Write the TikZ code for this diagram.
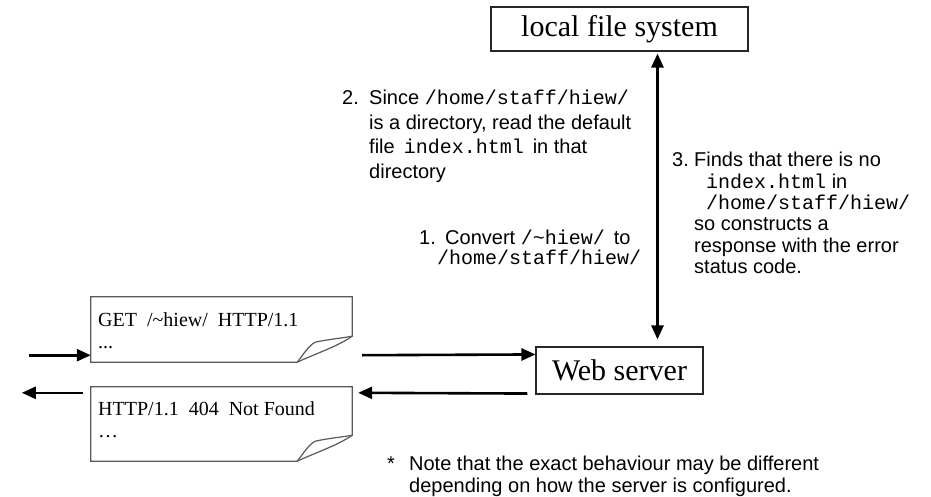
\documentclass[tikz,border=0pt]{standalone}
\usepackage{fontspec}
\setmainfont{Liberation Serif}
\newfontfamily\sansf{Liberation Sans}
\newfontfamily\monof{Liberation Mono}
\usetikzlibrary{arrows.meta,calc}

% lines stacked at a fixed baseline distance
\newcommand\stackedlines[1]{\vtop{\lineskiplimit=-100pt\lineskip=0pt #1}}

% outline of a sheet with a turned-up lower right corner
\newcommand\foldedpage[1]{%
  \draw[docline] (#1.north west) -- (#1.north east)
    -- ($(#1.south east)+(0,-26)$)
    .. controls ($(#1.south east)+(-14,-16)$) and ($(#1.south east)+(-38,-8)$) .. ($(#1.south east)+(-55,0)$)
    -- (#1.south west) -- cycle;
  \draw[docline, fill=none] ($(#1.south east)+(-55,0)$)
    .. controls ($(#1.south east)+(-48,-9)$) and ($(#1.south east)+(-43,-17)$) .. ($(#1.south east)+(-37,-20)$)
    .. controls ($(#1.south east)+(-24,-23)$) and ($(#1.south east)+(-10,-24)$) .. ($(#1.south east)+(0,-26)$);
}

\tikzset{
  titlebox/.style={draw=black!85, line width=1.1pt, inner sep=0, font=\fontsize{30}{36}\selectfont},
  docframe/.style={inner sep=0, minimum width=261pt},
  docline/.style={draw=black!65, line width=1.2pt, fill=white},
  doctext/.style={inner sep=0, anchor=base west, font=\fontsize{20}{22}\selectfont},
  flow/.style={line width=2.6pt, -{Triangle[length=14pt,width=12pt]}},
  bothways/.style={line width=2.6pt, {Triangle[length=14pt,width=12pt]}-{Triangle[length=14pt,width=12pt]}},
  note/.style={inner sep=0, anchor=base west},
}

\begin{document}
\begin{tikzpicture}[x=1pt,y=-1pt]
\useasboundingbox (0,0) rectangle (931,497);

% boxes
\node[titlebox, minimum width=257pt, minimum height=44pt] (lfs) at (619.5,29) {local file system};
\node[titlebox, minimum width=167pt, minimum height=47pt] (ws) at (619.5,370.5) {Web server};

\node[docframe, minimum height=65pt] (req) at (221.5,329.5) {};
\node[docframe, minimum height=74pt] (resp) at (221.5,424) {};
\foldedpage{req}
\foldedpage{resp}

\node[doctext] (reqtext) at (98,326) {\stackedlines{\hbox{GET\ \ /\textasciitilde hiew/\ \ HTTP/1.1}\hbox{...}}};
\node[doctext] (resptext) at (98,415) {\stackedlines{\hbox{HTTP/1.1\ \ 404\ \ Not Found}\hbox{\textellipsis}}};

% connectors
\coordinate (inA) at ($(req.south west)+(-62,-7)$);
\coordinate (outB) at ($(resp.north west)+(-69,6)$);
\draw[flow] (inA) -- ($(req.south west)+(0,-7)$);
\draw[flow] ($(req.south east)+(10,-7)$) -- ($(ws.north west)+(0,8)$);
\draw[flow] ($(ws.south west)+(-8,-1)$) -- ($(resp.north east)+(6,6)$);
\draw[flow] ($(resp.north west)+(-8,6)$) -- (outB);
\draw[bothways] ($(lfs.south)+(38,2)$) -- ($(ws.north)+(38,-7)$);

% annotations
\node[note, font=\sansf\fontsize{20}{24.5}\selectfont] (step2) at (342,105) {\stackedlines{%
  \hbox{\makebox[27pt][l]{2.}Since {\monof/home/staff/hiew/}}
  \hbox{\hspace*{27pt}is a directory, read the default}
  \hbox{\hspace*{27pt}file\hspace{9pt}{\monof index.html}\hspace{9pt}in that}
  \hbox{\hspace*{27pt}directory}}};

\node[note, font=\sansf\fontsize{20}{20}\selectfont] (step1) at (419,244) {\stackedlines{%
  \hbox{\makebox[26pt][l]{1.}Convert {\monof/\textasciitilde hiew/}\hspace{9pt}to}
  \hbox{\hspace*{18pt}{\monof/home/staff/hiew/}}}};

\node[note, font=\sansf\fontsize{20}{21.3}\selectfont] (step3) at (672,167) {\stackedlines{%
  \hbox{\makebox[22pt][l]{3.}Finds that there is no}
  \hbox{\hspace*{22pt}{\monof\ index.html}\ in}
  \hbox{\hspace*{22pt}{\monof\ /home/staff/hiew/}}
  \hbox{\hspace*{22pt}so constructs a}
  \hbox{\hspace*{22pt}response with the error}
  \hbox{\hspace*{22pt}status code.}}};

\node[note, font=\sansf\fontsize{20}{22}\selectfont] (remark) at (387,470) {\stackedlines{%
  \hbox{\makebox[22pt][l]{*}Note that the exact behaviour may be different}
  \hbox{\hspace*{22pt}depending on how the server is configured.}}};
\end{tikzpicture}
\end{document}
